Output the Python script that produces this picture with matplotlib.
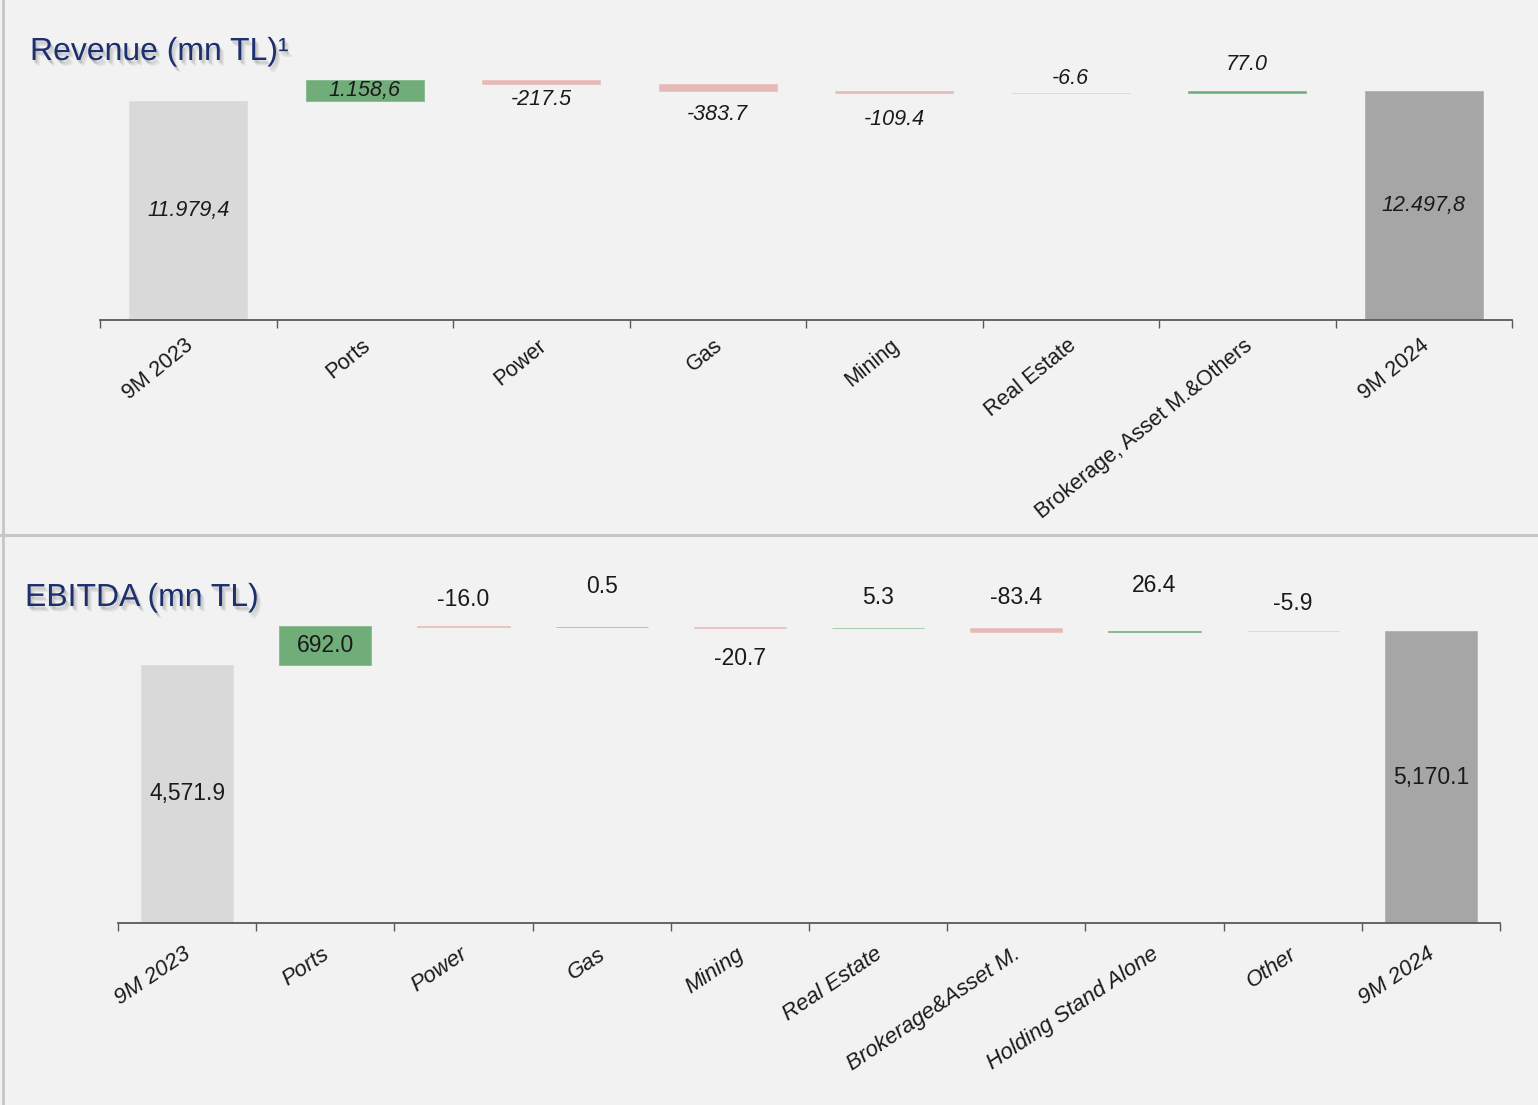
import matplotlib
matplotlib.use("Agg")
import matplotlib.pyplot as plt
import matplotlib.patheffects as pe
from matplotlib.lines import Line2D
from matplotlib.transforms import ScaledTranslation
import numpy as np

# ---- data -----------------------------------------------------------------
rev_categories = ["9M 2023", "Ports", "Power", "Gas", "Mining", "Real Estate",
                  "Brokerage, Asset M.&Others", "9M 2024"]
rev_values = [11979.4, 1158.6, -217.5, -383.7, -109.4, -6.6, 77.0, 12497.8]
rev_labels = ["11.979,4", "1.158,6", "-217.5", "-383.7", "-109.4", "-6.6", "77.0", "12.497,8"]

ebitda_categories = ["9M 2023", "Ports", "Power", "Gas", "Mining", "Real Estate",
                     "Brokerage&Asset M.", "Holding Stand Alone", "Other", "9M 2024"]
ebitda_values = [4571.9, 692.0, -16.0, 0.5, -20.7, 5.3, -83.4, 26.4, -5.9, 5170.1]
ebitda_labels = ["4,571.9", "692.0", "-16.0", "0.5", "-20.7", "5.3", "-83.4", "26.4", "-5.9", "5,170.1"]

# ---- style ----------------------------------------------------------------
BG = "#f2f2f2"
START_C = "#d9d9d9"
END_C = "#a6a6a6"
UP_C = "#70ad79"
DOWN_C = "#e6b8b7"
AXIS_C = "#595959"
TITLE_C = "#1c2f6e"
TEXT_C = "#1a1a1a"

plt.rcParams["font.family"] = ["Liberation Sans", "DejaVu Sans"]

W, H = 1538, 1105
fig = plt.figure(figsize=(W / 100, H / 100), dpi=100, facecolor=BG)


def px_axes(left, right, base_y, top_y):
    """Axes placed by pixel edges (y measured from the top of the figure)."""
    return fig.add_axes([left / W, (H - base_y) / H, (right - left) / W, (base_y - top_y) / H])


def waterfall(ax, cats, vals, labels, offsets, ymax, label_font, tick_font,
              tick_rot, tick_pad, tick_shift_px=0, width=0.667):
    n = len(cats)
    x = np.arange(n)
    bottoms, heights, colors = [], [], []
    running = 0.0
    for i, v in enumerate(vals):
        if i == 0:
            bottoms.append(0.0); heights.append(v); colors.append(START_C)
            running = v
        elif i == n - 1:
            bottoms.append(0.0); heights.append(v); colors.append(END_C)
        else:
            bottoms.append(min(running, running + v)); heights.append(abs(v))
            colors.append(UP_C if v >= 0 else DOWN_C)
            running += v
    ax.bar(x, heights, bottom=bottoms, width=width, color=colors,
           edgecolor=colors, linewidth=0.4, zorder=2)

    for i in range(n):
        b, h = bottoms[i], heights[i]
        off = offsets[i]
        if off is None:
            ax.annotate(labels[i], (x[i], b + h / 2), ha="center", va="center",
                        color=TEXT_C, **label_font)
        elif off > 0:
            ax.annotate(labels[i], (x[i], b + h), xytext=(0, off),
                        textcoords="offset pixels", ha="center", va="center",
                        color=TEXT_C, **label_font)
        else:
            ax.annotate(labels[i], (x[i], b), xytext=(0, off),
                        textcoords="offset pixels", ha="center", va="center",
                        color=TEXT_C, **label_font)

    ax.set_xlim(-0.5, n - 0.5)
    ax.set_ylim(0, ymax)
    ax.set_facecolor("none")
    for s in ("left", "right", "top"):
        ax.spines[s].set_visible(False)
    ax.spines["bottom"].set_color(AXIS_C)
    ax.spines["bottom"].set_linewidth(1.3)
    ax.set_yticks([])
    ax.set_xticks(x)
    ax.set_xticks(np.arange(n + 1) - 0.5, minor=True)
    ax.tick_params(axis="x", which="major", length=0, pad=tick_pad)
    ax.tick_params(axis="x", which="minor", length=5.5, width=1.0,
                   color=AXIS_C, direction="out")
    ax.set_xticklabels(cats, rotation=tick_rot, ha="right", va="top",
                       rotation_mode="anchor", color=TEXT_C, **tick_font)
    shift = ScaledTranslation(tick_shift_px / fig.dpi, 0, fig.dpi_scale_trans)
    for lab in ax.get_xticklabels():
        lab.set_transform(lab.get_transform() + shift)


def shadow_title(x, y, s):
    fig.text(x / W, 1 - y / H, s, fontsize=23, color=TITLE_C, ha="left",
             va="baseline",
             path_effects=[pe.SimplePatchShadow(offset=(1, -2), shadow_rgbFace="#000000", alpha=0.10),
                           pe.SimplePatchShadow(offset=(2, -3), shadow_rgbFace="#000000", alpha=0.08),
                           pe.SimplePatchShadow(offset=(3, -4), shadow_rgbFace="#000000", alpha=0.06),
                           pe.Normal()])


# ---- revenue panel --------------------------------------------------------
ax1 = px_axes(100, 1512, 320, 320 - 14000 * 0.01829)
rev_offsets = [None, None, -16, -24, -27, 14, 27, None]
waterfall(ax1, rev_categories, rev_values, rev_labels, rev_offsets, 14000,
          label_font=dict(fontsize=15.5, style="italic"),
          tick_font=dict(fontsize=15.5),
          tick_rot=39, tick_pad=11, tick_shift_px=-4)
shadow_title(30, 60, "Revenue (mn TL)\u00b9")

# ---- EBITDA panel ---------------------------------------------------------
ax2 = px_axes(118, 1500, 923, 923 - 6000 * 0.05645)
ebitda_offsets = [None, None, 26, 40, -31, 30, 30, 45, 27, None]
waterfall(ax2, ebitda_categories, ebitda_values, ebitda_labels, ebitda_offsets, 6000,
          label_font=dict(fontsize=16.5),
          tick_font=dict(fontsize=16, style="italic"),
          tick_rot=34, tick_pad=15, tick_shift_px=-4)
shadow_title(25, 606, "EBITDA (mn TL)")

# ---- panel frame ----------------------------------------------------------
fig.add_artist(Line2D([0, 1], [1 - 534.5 / H] * 2, transform=fig.transFigure,
                      color="#c6c6c6", linewidth=2.2))
fig.add_artist(Line2D([3 / W] * 2, [0, 1], transform=fig.transFigure,
                      color="#c6c6c6", linewidth=2.0))

fig.savefig("out.png", dpi=100, facecolor=BG)
